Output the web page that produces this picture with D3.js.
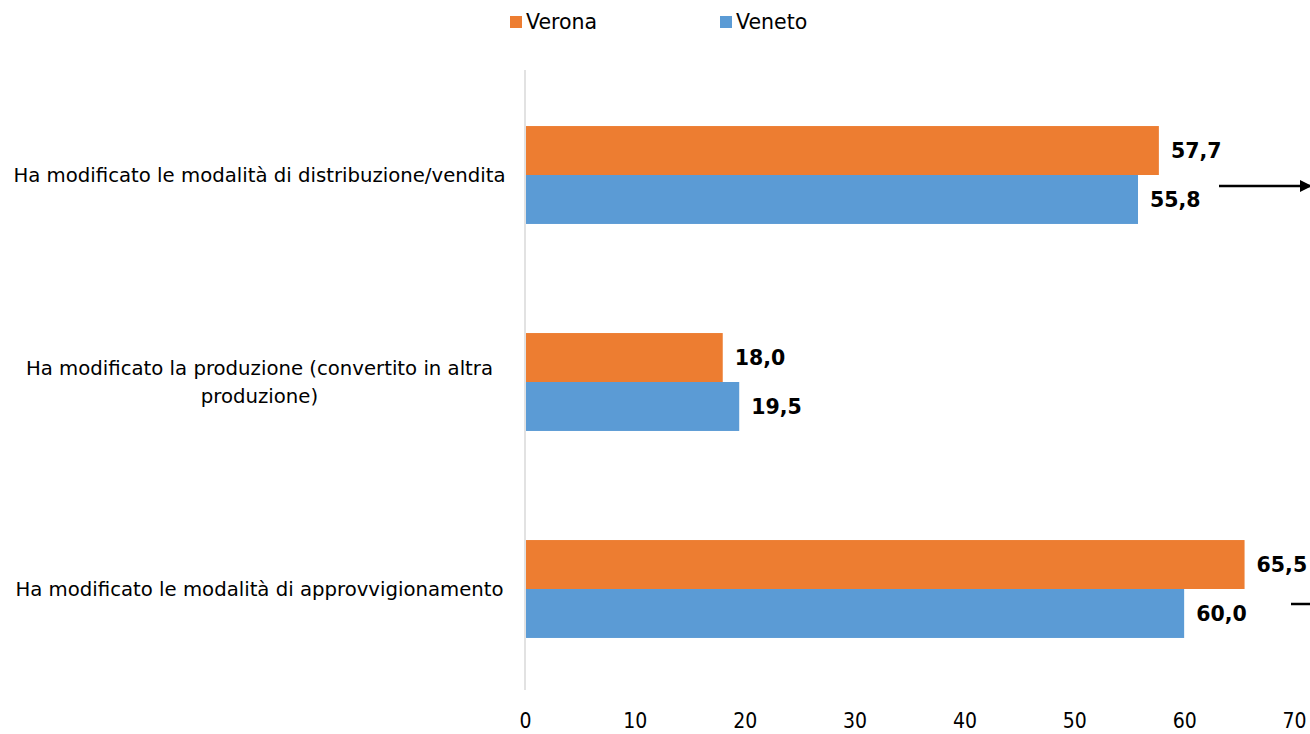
<!DOCTYPE html>
<html>
<head>
<meta charset="utf-8">
<style>
  body { margin: 0; background: #fff; }
  text { font-family: "DejaVu Sans", sans-serif; }
</style>
</head>
<body>
<svg width="1310" height="734"></svg>
<script src="https://d3js.org/d3.v7.min.js"></script>
<script>

var categories = [
  ["Ha modificato le modalità di distribuzione/vendita"],
  ["Ha modificato la produzione (convertito in altra", "produzione)"],
  ["Ha modificato le modalità di approvvigionamento"]
];
var seriesNames = ["Verona", "Veneto"];
var verona = [57.7, 18.0, 65.5];
var veneto = [55.8, 19.5, 60.0];
var xTicks = [0, 10, 20, 30, 40, 50, 60, 70];
var colors = ["#ED7D31", "#5B9BD5"];

var svg = d3.select("svg");

var data = categories.map(function(c, i) {
  return { key: c.join(" "), lines: c, values: [verona[i], veneto[i]] };
});

var x = d3.scaleLinear().domain([0, 70]).range([525, 1294]);

var y0 = d3.scaleBand()
    .domain(data.map(function(d) { return d.key; }))
    .range([71.5, 692.5])
    .paddingInner(0.527)
    .paddingOuter(0.2635);

var y1 = d3.scaleBand()
    .domain(seriesNames)
    .range([0, y0.bandwidth()]);

var fmt = function(v) { return d3.format(".1f")(v).replace(".", ","); };

// x tick labels (no gridlines)
var xAxis = svg.append("g")
    .attr("transform", "translate(0,690)")
    .call(d3.axisBottom(x).tickValues(xTicks).tickSize(0).tickPadding(23));
xAxis.select(".domain").remove();
xAxis.selectAll("text")
    .attr("fill", "#000")
    .style("font-size", "21px")
    .style("font-family", "DejaVu Sans Condensed, DejaVu Sans, sans-serif");

// vertical axis line
svg.append("line")
    .attr("x1", x(0)).attr("x2", x(0))
    .attr("y1", 70).attr("y2", 690)
    .attr("stroke", "#d9d9d9")
    .attr("stroke-width", 1.5);

var groups = svg.selectAll(".cat")
  .data(data)
  .enter().append("g")
    .attr("transform", function(d) { return "translate(0," + y0(d.key) + ")"; });

groups.selectAll("rect")
  .data(function(d) { return d.values.map(function(v, i) { return { name: seriesNames[i], v: v, i: i }; }); })
  .enter().append("rect")
    .attr("x", x(0) + 1)
    .attr("y", function(d) { return y1(d.name); })
    .attr("width", function(d) { return x(d.v) - x(0) - 1; })
    .attr("height", y1.bandwidth())
    .attr("fill", function(d) { return colors[d.i]; });

groups.selectAll(".val")
  .data(function(d) { return d.values.map(function(v, i) { return { name: seriesNames[i], v: v }; }); })
  .enter().append("text")
    .attr("x", function(d) { return x(d.v) + 12; })
    .attr("y", function(d) { return y1(d.name) + y1.bandwidth() / 2; })
    .attr("dy", "0.35em")
    .style("font-size", "20.5px")
    .style("font-weight", "bold")
    .text(function(d) { return fmt(d.v); });

// category labels
groups.append("text")
    .attr("text-anchor", "middle")
    .style("font-size", "19.7px")
    .attr("fill", "#000")
  .selectAll("tspan")
  .data(function(d) { return d.lines; })
  .enter().append("tspan")
    .attr("x", 259.5)
    .attr("y", function(l, i, arr) { return y0.bandwidth() / 2 + (i - (arr.length - 1) / 2) * 28; })
    .attr("dy", "0.35em")
    .text(function(l) { return l; });

// legend
var legend = svg.append("g")
  .selectAll("g")
  .data(seriesNames)
  .enter().append("g")
    .attr("transform", function(d, i) { return "translate(" + (510 + i * 210) + ",0)"; });
legend.append("rect")
    .attr("x", 0).attr("y", 16)
    .attr("width", 12).attr("height", 12)
    .attr("fill", function(d, i) { return colors[i]; });
legend.append("text")
    .attr("x", 16).attr("y", 22)
    .attr("dy", "0.35em")
    .style("font-size", "20.5px")
    .text(function(d) { return d; });

// annotation arrows at right edge
svg.append("defs").append("marker")
    .attr("id", "ah")
    .attr("viewBox", "0 0 10 10")
    .attr("refX", 10).attr("refY", 5)
    .attr("markerWidth", 5).attr("markerHeight", 5)
    .attr("orient", "auto")
  .append("path")
    .attr("d", "M0,0L10,5L0,10z")
    .attr("fill", "#000");
svg.append("line")
    .attr("x1", 1219).attr("x2", 1312)
    .attr("y1", 186).attr("y2", 186)
    .attr("stroke", "#000").attr("stroke-width", 2.5)
    .attr("marker-end", "url(#ah)");
svg.append("line")
    .attr("x1", 1291).attr("x2", 1310)
    .attr("y1", 604).attr("y2", 604)
    .attr("stroke", "#000").attr("stroke-width", 2.5);

</script>
</body>
</html>
